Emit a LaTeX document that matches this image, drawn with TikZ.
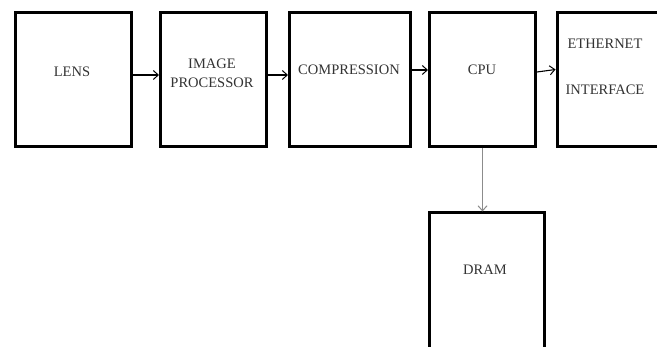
\documentclass[tikz,border=0pt]{standalone}
\usepackage{fontspec}
\setmainfont{Liberation Serif}
\usetikzlibrary{arrows.meta}
\begin{document}
\begin{tikzpicture}[x=1pt,y=-1pt,
  blockbox/.style={draw=black,line width=3pt,minimum height=134pt,inner sep=0pt,fill=white},
  lbl/.style={font=\fontsize{14.5}{16}\selectfont,text=black!80,inner sep=0pt,align=center},
  conn/.style={line width=1.1pt,-{Straight Barb[length=5pt,width=9pt,line width=1pt]}}]
\useasboundingbox (0,0) rectangle (657,347);
\clip (0,0) rectangle (657,347);
\fill[white] (0,0) rectangle (657,347);
\node[blockbox,minimum width=116pt] (lens) at (73.5,79.5) {};
\node[blockbox,minimum width=106pt] (ip) at (213.5,79.5) {};
\node[blockbox,minimum width=121pt] (comp) at (350,79.5) {};
\node[blockbox,minimum width=106pt] (cpu) at (482.5,79.5) {};
\node[blockbox,minimum width=124pt] (eth) at (619,79.5) {};
\node[blockbox,minimum width=115pt,minimum height=150pt] (dram) at (487,288) {};
\node[lbl] (tlens) at (72,72) {LENS};
\node[lbl] (tip) at (212,73) {IMAGE\\[3pt]PROCESSOR};
\node[lbl] (tcomp) at (349,70) {COMPRESSION};
\node[lbl] (tcpu) at (482,70) {CPU};
\node[lbl] (teth1) at (605,44) {ETHERNET};
\node[lbl] (teth2) at (605,90) {INTERFACE};
\node[lbl] (tdram) at (485,270) {DRAM};
\draw[conn] ([yshift=4.5pt]lens.east) -- ([yshift=4.5pt]ip.west);
\draw[conn] ([yshift=4.5pt]ip.east) -- ([yshift=4.5pt]comp.west);
\draw[conn] ([yshift=9.5pt]comp.east) -- ([yshift=9.5pt]cpu.west);
\draw[conn] ([yshift=7.5pt]cpu.east) -- ([yshift=10pt]eth.west);
\draw[conn,draw=black!45,line width=1.4pt] (cpu.south) -- (cpu.south |- dram.north);
\end{tikzpicture}
\end{document}
